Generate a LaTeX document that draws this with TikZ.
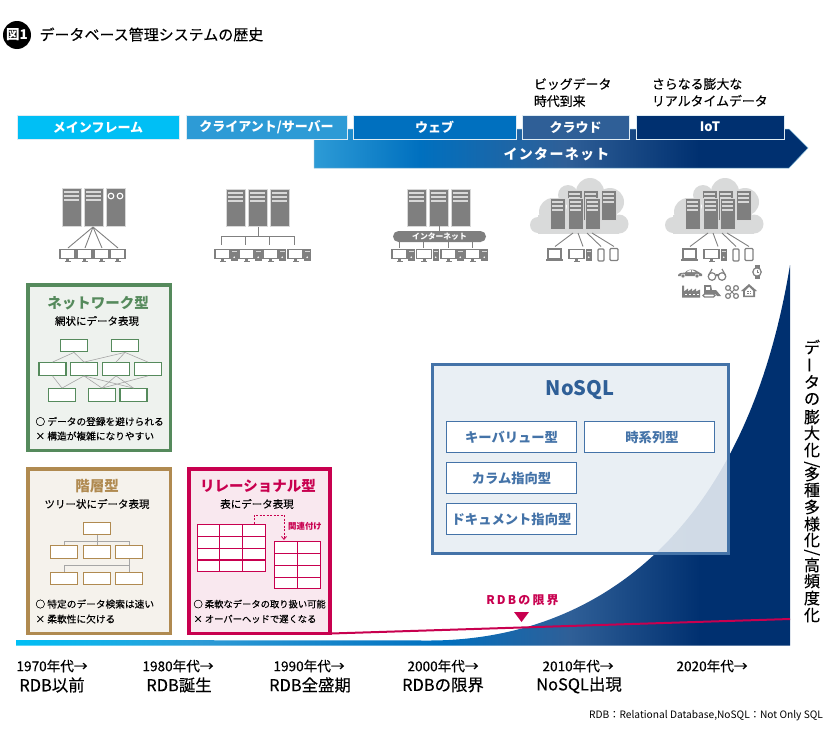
\documentclass[tikz,border=0pt]{standalone}
\usepackage{fontspec}
\setmainfont{Noto Sans CJK JP}
\newfontfamily\jpmed[FakeBold=0.25]{Noto Sans CJK JP}
\newfontfamily\jpwide[LetterSpace=9]{Noto Sans CJK JP}
\newfontfamily\jpwider[LetterSpace=18]{Noto Sans CJK JP}
\usetikzlibrary{arrows.meta,calc}
\definecolor{eracyan}{HTML}{00BFF5}
\definecolor{erasky}{HTML}{2D9BD6}
\definecolor{erablue}{HTML}{0070BF}
\definecolor{eramid}{HTML}{2F5F97}
\definecolor{eranavy}{HTML}{003070}
\definecolor{netgreen}{HTML}{558A5C}
\definecolor{netbg}{HTML}{EEF2EE}
\definecolor{layerbrown}{HTML}{B08A50}
\definecolor{layerbg}{HTML}{F5F2EC}
\definecolor{relred}{HTML}{C8004F}
\definecolor{relbg}{HTML}{F9E8EF}
\definecolor{nosqlline}{HTML}{4473A8}
\definecolor{nosqlbg}{HTML}{E7EDF3}
\definecolor{rackgray}{HTML}{7F7F7F}
\definecolor{rackedge}{HTML}{D8D8D8}
\definecolor{cloudgray}{HTML}{D9DADA}
\definecolor{devgray}{HTML}{808080}
\pgfdeclarehorizontalshading{netshade}{100bp}{color(0bp)=(erasky); color(25bp)=(erasky); color(35.7bp)=(erablue); color(50.4bp)=(eramid); color(64bp)=(eranavy); color(100bp)=(eranavy)}
\pgfdeclarehorizontalshading{growshade}{100bp}{color(0bp)=(eracyan); color(25bp)=(eracyan); color(36.9bp)=(erasky); color(52.4bp)=(erablue); color(60.8bp)=(eramid); color(69.2bp)=(eranavy); color(100bp)=(eranavy)}
\newcommand{\fsz}[1]{\fontsize{#1}{#1}\selectfont}
\newcommand{\sideslash}{/}
\tikzset{
  plain/.style={inner sep=0pt, outer sep=0pt},
  erabar/.style={draw=rackedge!60!erasky!30!white, line width=.8pt, minimum height=24.5, inner sep=0pt, text=white, font=\bfseries\fsz{13}},
  panel/.style={line width=3.5pt, inner sep=0pt},
  paneltitle/.style={plain, font=\bfseries\fsz{14.5}},
  panelsub/.style={plain, font=\jpmed\fsz{10.5}},
  panelnote/.style={plain, anchor=west, font=\jpmed\fsz{9.7}},
  recbox/.style={draw=#1, fill=white, line width=1.3pt, minimum width=27, minimum height=12.5, inner sep=0pt},
  netlink/.style={draw=black!35, line width=.6pt},
  wire/.style={draw=devgray, line width=.9pt},
  nosqlcell/.style={draw=nosqlline, fill=white, line width=1.3pt, minimum width=130, minimum height=31, inner sep=0pt, text=nosqlline, font=\bfseries\fsz{13.3}},
  yeartext/.style={plain, font=\jpmed\fsz{13.6}},
  stagetext/.style={plain, font=\jpmed\fsz{16.4}},
  pics/rack/.style 2 args={code={
    \filldraw[fill=rackgray, draw=rackedge, line width=.5pt] (0,0) rectangle (#1,#2);
    \foreach \s in {4,8,12} \draw[rackedge, line width=1.1pt] (2,\s) -- (#1-2,\s);
  }},
  pics/cloudfarm/.style={code={
    \foreach \x/\y/\r in {8/46/8,23/33/14,38/16/10,60/13/14,80/23/14,89/45/9.5} \fill[cloudgray] (\x,\y) circle (\r);
    \fill[cloudgray] (8,36) rectangle (89,54.5);
    \foreach \x in {37,53,71} \pic at (\x,11) {rack={15}{30}};
    \foreach \x in {20,38,55} \pic at (\x,19) {rack={15}{31}};
  }},
  pics/monitor/.style={code={
    \draw[draw=devgray, fill=white, line width=1.1pt] (0,0) rectangle (15,9);
    \fill[devgray] (6,9) rectangle (9,11);
    \fill[devgray] (4.5,11) rectangle (10.5,12);
  }},
  pics/tower/.style={code={
    \fill[rackgray] (0,0) rectangle (6.5,12);
    \fill[white] (3.2,8.8) circle (.9);
    \draw[rackedge, line width=.5pt] (1,2.5) -- (5.5,2.5);
  }},
  pics/laptop/.style={code={
    \draw[draw=devgray, fill=white, line width=1.1pt] (2,0) rectangle (15,9.5);
    \draw[devgray, line width=1.4pt] (0,10.8) -- (17,10.8);
  }},
  pics/handset/.style={code={
    \draw[draw=devgray, fill=white, line width=1.2pt, rounded corners=1pt] (0,0) rectangle (#1,12);
  }},
  pics/car/.style={code={
    \fill[devgray] (-12,3) .. controls (-12.5,0) and (-8,-.5) .. (-5,-.5) .. controls (-3,-3.5) and (2,-4) .. (5,-3) .. controls (7,-1.5) and (10,-.5) .. (12,1) -- (12,3) -- cycle;
    \fill[white] (-3.5,-.8) .. controls (-2,-2.8) and (0,-3) .. (1,-3) -- (1,-.8) -- cycle;
    \fill[white] (2,-.8) -- (2,-3) .. controls (4,-2.8) and (4.5,-2) .. (6,-.8) -- cycle;
    \filldraw[fill=devgray, draw=white, line width=.5pt] (-7,3) circle (2);
    \filldraw[fill=devgray, draw=white, line width=.5pt] (7,3) circle (2);
  }},
  pics/glasses/.style={code={
    \draw[devgray, line width=1.2pt] (-5,2.5) circle (3.8);
    \draw[devgray, line width=1.2pt] (5,2.5) circle (3.8);
    \draw[devgray, line width=1.2pt] (-1.5,1) .. controls (-.5,.2) and (.5,.2) .. (1.5,1);
    \draw[devgray, line width=1.2pt] (-8.5,1.5) -- (-5,-5);
    \draw[devgray, line width=1.2pt] (8.5,1.5) -- (5,-5);
  }},
  pics/watch/.style={code={
    \fill[devgray] (-2.5,-7) rectangle (2.5,7);
    \filldraw[fill=white, draw=devgray, line width=1.2pt] (0,0) circle (4.2);
    \draw[devgray, line width=.7pt] (0,-2.5) -- (0,0) -- (2,0);
  }},
  pics/factory/.style={code={
    \fill[devgray] (-9,6) -- (-9,-6) -- (-7,-6) -- (-7,0) -- (-3,-3) -- (-3,0) -- (1,-3) -- (1,0) -- (5,-3) -- (5,0) -- (9,-2) -- (9,6) -- cycle;
    \foreach \x in {-5,-1,3,7} \fill[white] (\x-.8,2) rectangle (\x+.8,3.5);
  }},
  pics/dozer/.style={code={
    \fill[devgray] (-8,-1) -- (-8,-6) -- (-1,-6) -- (0,-1) -- (4,-1) -- (9,5) -- (5,5) -- (3,3) -- (-8,3) -- cycle;
    \fill[white] (-6.5,-4.5) rectangle (-2,-1.5);
    \draw[devgray, line width=1.1pt, rounded corners=1.5pt] (-9,3) rectangle (3,6);
  }},
  pics/drone/.style={code={
    \draw[devgray, line width=1pt] (-3,-3) -- (3,3);
    \draw[devgray, line width=1pt] (3,-3) -- (-3,3);
    \foreach \x/\y in {-4/-4,4/-4,-4/4,4/4} \draw[devgray, line width=1.2pt] (\x,\y) circle (2.4);
  }},
  pics/house/.style={code={
    \fill[devgray] (0,-7) -- (8,0) -- (6,0) -- (6,6) -- (-6,6) -- (-6,0) -- (-8,0) -- cycle;
    \fill[white] (0,-4) -- (4,0) -- (4,4.5) -- (-4,4.5) -- (-4,0) -- cycle;
    \fill[devgray] (-2,-.5) rectangle (2,3);
    \fill[white] (-.4,-.5) rectangle (.4,3);
    \fill[white] (-2,.9) rectangle (2,1.6);
  }},
}

\begin{document}
\begin{tikzpicture}[x=1pt,y=-1pt]
\useasboundingbox (0,0) rectangle (840,739);
% title
\node[circle, fill=black, text=white, minimum size=28, inner sep=0pt, font=\bfseries\fsz{13.5}] (figbadge) at (17,35) {図1};
\node[plain, anchor=west, font=\jpmed\fsz{15}] (figtitle) at (39.5,34.5) {データベース管理システムの歴史};
% era bars
\node[plain, anchor=north west, align=left, font=\jpmed\fontsize{12.9}{17}\selectfont] (bignote) at (534,78) {ビッグデータ\\時代到来};
\node[plain, anchor=north west, align=left, font=\jpmed\fontsize{12.9}{17}\selectfont] (iotnote) at (652,78) {さらなる膨大な\\リアルタイムデータ};
\path[shade, shading=netshade, draw=rackedge!50!erasky, line width=.5pt] (314,129) -- (789,129) -- (808,148) -- (789,168) -- (314,168) -- cycle;
\node[plain, text=white, font=\jpwide\bfseries\fsz{14}] (netlabel) at (556.5,154) {インターネット};
\node[erabar, fill=eracyan, minimum width=162] (mainframe) at (98,127.2) {メインフレーム};
\node[erabar, fill=erasky, minimum width=161] (clientsrv) at (266.5,127.2) {クライアント/サーバー};
\node[erabar, fill=erablue, minimum width=163] (webera) at (434.5,127.2) {ウェブ};
\node[erabar, fill=eramid, minimum width=107] (cloudera) at (575.5,127.2) {クラウド};
\node[erabar, fill=eranavy, minimum width=148] (iotera) at (710,127.2) {IoT};
% mainframe icons
\foreach \x in {62,84} \pic at (\x,188) {rack={19}{38}};
\filldraw[fill=rackgray, draw=rackedge, line width=.5pt] (106,188) rectangle (125,226);
\draw[white, line width=1.1pt] (111,196) circle (2.8);
\draw[white, line width=1.1pt] (120,196) circle (2.8);
\coordinate (mfhub) at (93,227);
\foreach \i/\x in {1/60,2/77,3/94,4/110} {
  \pic at (\x,249.5) {monitor};
  \coordinate (mft\i) at (\x+8,248);
  \draw[wire] (mfhub) -- (mft\i);
}
% client server icons
\foreach \x in {226,248,270} \pic at (\x,189) {rack={19}{37}};
\coordinate (cshub) at (258,227);
\foreach \i/\x in {1/215,2/239,3/263,4/288} {
  \pic at (\x,249.5) {monitor};
  \pic at (\x+16,248.5) {tower};
  \coordinate (cst\i) at (\x+6,245);
  \draw[wire] (cshub) -- +(0,9.5) -| (cst\i);
}
% web icons
\foreach \x in {407,429,451} \pic at (\x,189) {rack={19}{37}};
\node[fill=rackgray, text=white, rounded corners=5.5pt, minimum width=93, minimum height=11, inner sep=0pt, font=\bfseries\fsz{7.8}] (pill) at (439.5,236.5) {インターネット};
\coordinate (wbhub) at (439.5,226);
\draw[wire] (wbhub) -- (pill.north);
\foreach \i/\x in {1/392,2/416.5,3/441,4/465} {
  \pic at (\x,249.5) {monitor};
  \pic at (\x+16,248.5) {tower};
  \coordinate (wbt\i) at (\x+7,248);
  \draw[wire] (pill.south -| wbt\i) -- (wbt\i);
}
% cloud and iot icons
\foreach \cx/\nm in {530/cld,665/iot} {
  \pic at (\cx,179) {cloudfarm};
  \foreach \i/\ax/\bx in {1/43/25,2/48/53,3/57/71,4/62/84} {
    \coordinate (\nm a\i) at (\cx+\ax,233);
    \coordinate (\nm b\i) at (\cx+\bx,246.5);
    \draw[wire] (\nm a\i) -- (\nm b\i);
  }
  \pic at (\cx+16,249) {laptop};
  \pic at (\cx+39,249.5) {monitor};
  \pic at (\cx+55.5,248.5) {tower};
  \pic at (\cx+68,249) {handset=6};
  \pic at (\cx+80,248.5) {handset=8};
}
\pic at (690,273) {car};
\pic at (717,274) {glasses};
\pic at (757,272) {watch};
\pic at (691,291.5) {factory};
\pic at (712,291) {dozer};
\pic at (732,292) {drone};
\pic at (749,291) {house};
% growth of data
\path[shade, shading=growshade] (16,640) -- (430,640.5) .. controls (590,640) and (745,540) .. (790,265) -- (790,645.5) -- (16,645.5) -- cycle;
\coordinate (rdbstart) at (331,633.5);
\coordinate (rdbend) at (790,619);
\draw[relred, line width=2pt] (rdbstart) -- (rdbend);
\fill[relred] (514,612) -- (529,612) -- (521.5,622) -- cycle;
\node[plain, text=relred, font=\jpwider\bfseries\fsz{12}] (rdblimit) at (522.5,600) {RDBの限界};
% network model
\node[panel, draw=netgreen, fill=netbg, minimum width=142.5, minimum height=165.5] (netpanel) at (99,367.5) {};
\node[paneltitle, text=netgreen] (nettitle) at (98,303) {ネットワーク型};
\node[panelsub] (netsub) at (97,321) {網状にデータ表現};
\node[recbox=netgreen] (na) at (74,345.5) {};
\node[recbox=netgreen] (nb) at (125,345.5) {};
\node[recbox=netgreen] (nc) at (52.5,369) {};
\node[recbox=netgreen] (nd) at (84,369) {};
\node[recbox=netgreen] (ne) at (116,369) {};
\node[recbox=netgreen] (nf) at (148,369) {};
\node[recbox=netgreen] (ng) at (62,395) {};
\node[recbox=netgreen] (nh) at (102,395) {};
\node[recbox=netgreen] (ni) at (133.5,395) {};
\foreach \s/\e in {na/nc,na/nd,nb/nd,nb/ne,nb/nf,nc/ng,nd/ng,nd/nh,nd/ni,ne/nh,ne/ni,nf/nh}
  \draw[netlink] (\s.south) -- (\e.north);
\node[panelnote] (netgood) at (35.5,421.5) {○ データの登録を避けられる};
\node[panelnote] (netbad) at (35.5,436) {× 構造が複雑になりやすい};
% hierarchical model
\node[panel, draw=layerbrown, fill=layerbg, minimum width=142.5, minimum height=164.5] (layerpanel) at (99,551) {};
\node[paneltitle, text=layerbrown] (layertitle) at (97,486) {階層型};
\node[panelsub] (layersub) at (97,504) {ツリー状にデータ表現};
\node[recbox=layerbrown] (lt) at (97,528.5) {};
\foreach \n/\x in {a/64,b/97,c/129} {
  \node[recbox=layerbrown] (l\n) at (\x,552) {};
  \node[recbox=layerbrown] (m\n) at (\x,578.5) {};
}
\draw[netlink, line width=.8pt] (lt.south) -- (lb.north);
\draw[netlink, line width=.8pt] (lt.south) -- +(0,5.5) -| (la.north);
\draw[netlink, line width=.8pt] (lt.south) -- +(0,5.5) -| (lc.north);
\draw[netlink, line width=.8pt] (lc.south) -- (mc.north);
\draw[netlink, line width=.8pt] (lc.south) -- +(0,6.5) -| (ma.north);
\node[panelnote] (layergood) at (35.5,604) {○ 特定のデータ検索は速い};
\node[panelnote] (layerbad) at (35.5,619) {× 柔軟性に欠ける};
% relational model
\node[panel, draw=relred, fill=relbg, minimum width=141, minimum height=164.5] (relpanel) at (259.25,551) {};
\node[paneltitle, text=relred] (reltitle) at (258,486) {リレーショナル型};
\node[panelsub] (relsub) at (257,504) {表にデータ表現};
\node[draw=relred, fill=white, line width=1.5pt, minimum width=68, minimum height=47, inner sep=0pt] (tablea) at (231.5,548) {};
\node[draw=relred, fill=white, line width=1.5pt, minimum width=46, minimum height=47, inner sep=0pt] (tableb) at (297.5,565) {};
\foreach \x in {219.5,242.5} \draw[relred, line width=1.5pt] (\x,524) -- (\x,572);
\foreach \y in {536.5,548.3,560} \draw[relred, line width=1.5pt] (197,\y) -- (266,\y);
\draw[relred, line width=1.5pt] (297.7,541) -- (297.7,589);
\foreach \y in {553.3,565.5,577.3} \draw[relred, line width=1.5pt] (274,\y) -- (321,\y);
\coordinate (relfrom) at (254,523.5);
\coordinate (relto) at (284,540);
\draw[relred, dash pattern=on 2pt off 1.5pt, line width=.8pt, -{Straight Barb[length=3pt,width=5pt]}] (relfrom) -- +(0,-8.5) -| (relto);
\node[plain, text=relred, font=\bfseries\fsz{8.4}] (rellabel) at (305,526) {関連付け};
\node[panelnote, font=\jpmed\fsz{9.3}] (relgood) at (193.5,604) {○ 柔軟なデータの取り扱い可能};
\node[panelnote, font=\jpmed\fsz{9.3}] (relbad) at (193.5,619) {× オーバーヘッドで遅くなる};
% nosql
\node[draw=nosqlline, fill=nosqlbg, fill opacity=.9, line width=3pt, minimum width=295.5, minimum height=188.5, inner sep=0pt] (nosqlpanel) at (580.25,458.75) {};
\node[plain, text=eramid, font=\bfseries\fsz{20}] (nosqltitle) at (580,390) {NoSQL};
\node[nosqlcell] (keyvalue) at (511.5,437) {キーバリュー型};
\node[nosqlcell] (timeseries) at (649.5,437) {\hspace*{5pt}時系列型};
\node[nosqlcell] (columnar) at (511.5,478) {カラム指向型};
\node[nosqlcell] (document) at (511.5,519) {ドキュメント指向型};
% right side text
\foreach \i/\ch/\yy/\rr in {1/デ/347/0,2/ー/365/90,3/タ/382/0,4/の/399/0,5/膨/417/0,6/大/433/0,7/化/450/0,8/\sideslash/464.5/90,9/多/474/0,10/種/490/0,11/多/507/0,12/様/524/0,13/化/540/0,14/\sideslash/552.5/90,15/高/565/0,16/頻/581/0,17/度/598/0,18/化/615/0}
  \node[plain, rotate=\rr, font=\jpmed\fsz{16}] (sidech\i) at (812,\yy) {\ch};
% years
\foreach \nm/\x/\yr in {a/52/1970,b/178/1980,c/309/1990,d/443/2000,e/578/2010,f/712/2020}
  \node[yeartext] (year\nm) at (\x,666) {\yr 年代→};
\node[stagetext] (stagea) at (52,685) {RDB以前};
\node[stagetext] (stageb) at (179,685) {RDB誕生};
\node[stagetext] (stagec) at (310,685) {RDB全盛期};
\node[stagetext] (staged) at (443,685) {RDBの限界};
\node[stagetext] (stagee) at (579,685) {NoSQL出現};
\node[plain, anchor=east, font=\fsz{10.2}] (footnote) at (823,716) {RDB：Relational Database,NoSQL：Not Only SQL};
\end{tikzpicture}
\end{document}
